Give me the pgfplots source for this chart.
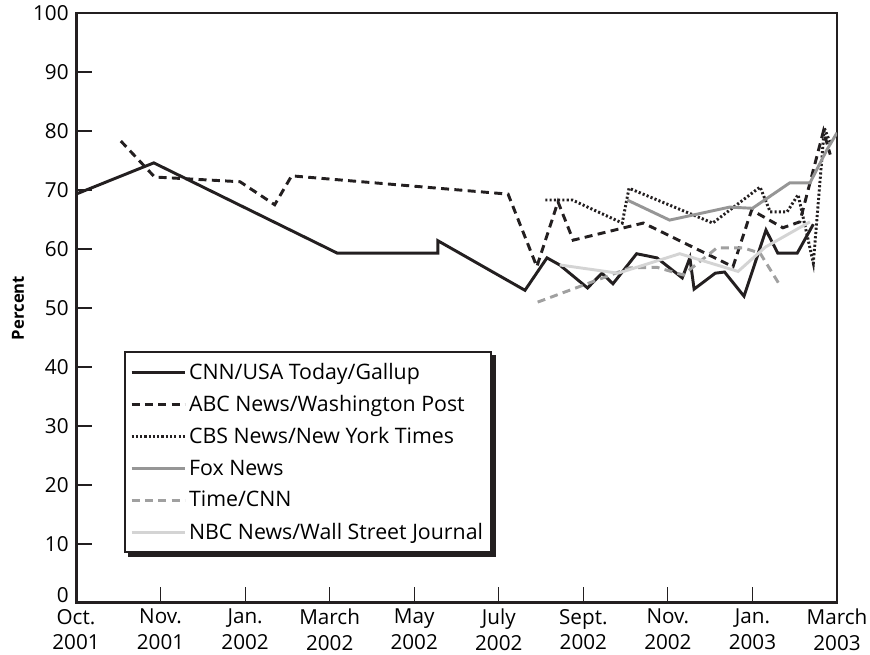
\documentclass[border=0pt]{standalone}
\usepackage{pgfplots}
\pgfplotsset{compat=1.18}
\usepackage{fontspec}
\setmainfont{Open Sans}
\definecolor{ink}{RGB}{35,31,32}
\definecolor{foxgray}{RGB}{150,150,150}
\definecolor{timegray}{RGB}{160,160,160}
\definecolor{nbcgray}{RGB}{212,212,212}

\begin{document}
\begin{tikzpicture}
\begin{axis}[
  scale only axis,
  width=570.75pt,
  height=442.5pt,
  xmin=0, xmax=9,
  ymin=0, ymax=100,
  xtick={0,1,2,3,4,5,6,7,8,9},
  xticklabels={{Oct.\\2001},{Nov.\\2001},{Jan.\\2002},{March\\2002},{May\\2002},{July\\2002},{Sept.\\2002},{Nov.\\2002},{Jan.\\2003},{March\\2003}},
  xticklabel style={align=center, font=\fontsize{15.5}{19}\selectfont, yshift=-1pt},
  ytick={10,20,30,40,50,60,70,80,90,100},
  extra y ticks={0},
  extra y tick style={yticklabel style={yshift=6pt}},
  yticklabel style={font=\fontsize{15.5}{17}\selectfont, xshift=-2pt},
  /pgf/number format/assume math mode=true,
  tick align=inside,
  xtick pos=left,
  ytick pos=left,
  major tick length=12pt,
  tick style={ink, line width=0.8pt},
  axis line style={ink, line width=1.1pt},
  ylabel={\bfseries Percent},
  ylabel style={font=\fontsize{12.5}{15}\selectfont, yshift=0pt},
  legend cell align=left,
  legend style={
    at={(rel axis cs:0.063,0.085)}, anchor=south west,
    name=leg,
    draw=ink, line width=1.3pt, fill=white,
    font=\fontsize{16}{18}\selectfont,
    row sep=6.6pt, inner xsep=4pt, inner ysep=6pt,
    /tikz/every even column/.append style={column sep=5pt},
  },
  legend image code/.code={\draw[#1] (0pt,0pt) -- (40pt,0pt);},
]
% CNN/USA Today/Gallup
\addplot[ink, line width=2.2pt] coordinates {
  (0,69.3) (0.92,74.6) (3.09,59.3) (4.28,59.3) (4.28,61.4) (5.31,53.0)
  (5.57,58.5) (5.72,57.3) (6.05,53.4) (6.22,55.9) (6.35,54.1) (6.63,59.2)
  (6.87,58.5) (7.17,55.1) (7.26,58.5) (7.31,53.2) (7.56,55.9) (7.67,56.1)
  (7.90,52.0) (8.16,63.2) (8.30,59.3) (8.53,59.3) (8.72,64.2)
};
\addlegendentry{CNN/USA Today/Gallup}
% ABC News/Washington Post
\addplot[ink, line width=2.2pt, dash pattern=on 6pt off 4pt] coordinates {
  (0.53,78.3) (0.93,72.2) (1.94,71.4) (2.35,67.5) (2.55,72.4) (5.11,69.3)
  (5.45,57.0) (5.70,68.0) (5.88,61.5) (6.71,64.4) (7.77,57.0) (7.99,66.6)
  (8.36,63.6) (8.56,64.6) (8.84,80.0) (8.92,76.0)
};
\addlegendentry{ABC News/Washington Post}
% CBS News/New York Times
\addplot[ink, line width=2.2pt, dash pattern=on 1.6pt off 1.6pt] coordinates {
  (5.55,68.3) (5.87,68.3) (6.46,64.4) (6.54,70.3) (7.53,64.4) (8.09,70.5)
  (8.21,66.3) (8.41,66.3) (8.54,69.2) (8.72,57.6) (8.85,80.5) (8.92,78.0)
};
\addlegendentry{CBS News/New York Times}
% Fox News
\addplot[foxgray, line width=2.2pt] coordinates {
  (6.52,68.3) (7.02,64.9) (7.73,67.1) (8.0,66.9) (8.44,71.2) (8.68,71.2)
  (8.88,76.8) (9.0,79.7)
};
\addlegendentry{Fox News}
% Time/CNN
\addplot[timegray, line width=2.2pt, dash pattern=on 6pt off 4pt] coordinates {
  (5.46,51.0) (6.55,56.8) (6.87,56.9) (7.18,55.6) (7.58,60.2) (7.89,60.2)
  (8.09,59.3) (8.31,54.2)
};
\addlegendentry{Time/CNN}
% NBC News/Wall Street Journal
\addplot[nbcgray, line width=2.2pt] coordinates {
  (5.72,57.3) (6.41,55.9) (7.14,59.2) (7.83,56.2) (8.15,60.3) (8.68,64.6)
};
\addlegendentry{NBC News/Wall Street Journal}
\draw[ink, line width=3pt] (rel axis cs:0,1) -- (rel axis cs:0,0) -- (rel axis cs:1,0);
\end{axis}
% legend drop shadow (right and bottom)
\draw[ink, line width=3pt] ([xshift=1.5pt,yshift=-3pt]leg.north east) -- ([xshift=1.5pt,yshift=-1.5pt]leg.south east) -- ([xshift=3pt,yshift=-1.5pt]leg.south west);
\pgfresetboundingbox
\path[use as bounding box] ([xshift=-57pt,yshift=-38.25pt]current axis.south west) rectangle ([xshift=24.75pt,yshift=9.75pt]current axis.north east);
\end{tikzpicture}
\end{document}
